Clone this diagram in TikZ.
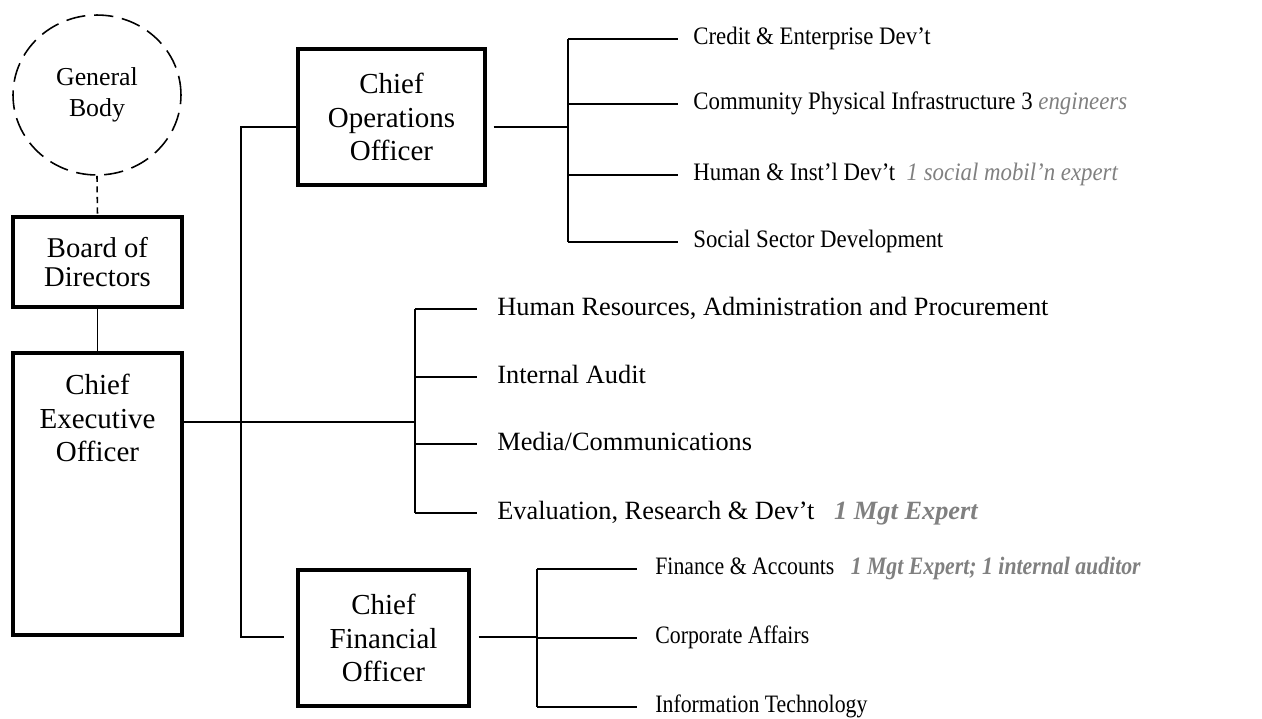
\documentclass[tikz,border=0pt]{standalone}
\usepackage{graphicx}
\usepackage{fontspec}
\setmainfont{Liberation Serif}
\usetikzlibrary{shapes.geometric}
\definecolor{notegray}{RGB}{128,128,128}
\newcommand\grnote[1]{\textcolor{notegray}{\textit{#1}}}
\newcommand\grbnote[1]{\textcolor{notegray}{\textbf{\textit{#1}}}}
\newcommand\tallA[1]{\scalebox{1}[1.1]{#1}}
\newcommand\tallB[1]{\scalebox{1}[1.15]{#1}}
\begin{document}
\begin{tikzpicture}[x=0.02cm,y=-0.02cm,
  box/.style={draw,line width=1.8pt,rectangle,inner sep=0pt,align=center,
    font=\fontsize{16.5}{19}\selectfont},
  boxtext/.style={align=center,inner sep=0pt,font=\fontsize{16.5}{19}\selectfont},
  item/.style={anchor=west,inner sep=0pt,font=\fontsize{13}{15}\selectfont,
    text height=9.9pt,text depth=3.3pt},
  itemm/.style={anchor=west,inner sep=0pt,font=\fontsize{15}{17}\selectfont,
    text height=10.5pt,text depth=3.5pt},
  itemf/.style={anchor=west,inner sep=0pt,font=\fontsize{12.4}{14}\selectfont,
    text height=9.9pt,text depth=3.3pt},
  conn/.style={line width=0.9pt}]
\useasboundingbox (0,0) rectangle (1262,718);

% top-left
\node[ellipse,draw,line width=0.9pt,dash pattern=on 11pt off 5pt,
  minimum width=3.36cm,minimum height=3.2cm,inner sep=0pt,align=center,
  font=\fontsize{14.7}{18}\selectfont] (gb) at (97,95) {General\\Body};
\node[box,minimum width=3.38cm,minimum height=1.8cm,
  font=\fontsize{16.3}{17}\selectfont] (board) at (97.5,262) {Board of\\Directors};
\node[box,minimum width=3.38cm,minimum height=5.64cm] (ceo) at (97.5,494) {};
\node[boxtext] (ceot) at (97.5,418) {Chief\\Executive\\Officer};

\node[box,minimum width=3.74cm,minimum height=2.72cm] (coo) at (391.5,117) {Chief\\Operations\\Officer};
\node[box,minimum width=3.42cm,minimum height=2.72cm] (cfo) at (383.5,638) {Chief\\Financial\\Officer};

\draw[conn,dash pattern=on 3.5pt off 2.5pt] (gb.south) -- (board.north);
\draw[conn] (board.south) -- (ceo.north);

% junction coordinates
\coordinate (sp1) at (241,127);
\coordinate (sp2) at (241,637);
\coordinate (midj) at (415,422);
\coordinate (cooj) at (568,127);
\coordinate (cfoj) at (537,637);

% items: COO
\node[item] (t1) at (693,39) {\tallA{Credit \& Enterprise Dev't}};
\node[item] (t2) at (693,104) {\tallA{Community Physical Infrastructure 3 \grnote{engineers}}};
\node[item] (t3) at (693,175) {\tallA{Human \& Inst'l Dev't~~\grnote{1 social mobil'n expert}}};
\node[item] (t4) at (693,242) {\tallA{Social Sector Development}};
% items: middle
\node[itemm] (m1) at (497,309) {Human Resources, Administration and Procurement};
\node[itemm] (m2) at (497,377) {Internal Audit};
\node[itemm] (m3) at (497,444) {Media/Communications};
\node[itemm] (m4) at (497,513) {Evaluation, Research \& Dev't~~~\grbnote{1 Mgt Expert}};
% items: CFO
\node[itemf] (f1) at (655,569) {\tallB{Finance \& Accounts~~~\grbnote{1 Mgt Expert; 1 internal auditor}}};
\node[itemf] (f2) at (655,638) {\tallB{Corporate Affairs}};
\node[itemf] (f3) at (655,707) {\tallB{Information Technology}};

% CEO links
\draw[conn] (ceo.east |- midj) -- (midj);
\draw[conn] (coo.west |- sp1) -- (sp1) -- (sp2) -- ([xshift=-0.24cm]cfo.west |- sp2);

% COO branch
\draw[conn] ([xshift=0.14cm]coo.east |- cooj) -- (cooj);
\draw[conn] (cooj |- t1.west) -- (cooj |- t4.west);
\foreach \n in {t1,t2,t3,t4}
  \draw[conn] (cooj |- \n.west) -- ([xshift=-0.3cm]\n.west);

% middle branch
\draw[conn] (midj |- m1.west) -- (midj |- m4.west);
\foreach \n in {m1,m2,m3,m4}
  \draw[conn] (midj |- \n.west) -- ([xshift=-0.4cm]\n.west);

% CFO branch
\draw[conn] ([xshift=0.16cm]cfo.east |- cfoj) -- (cfoj);
\draw[conn] (cfoj |- f1.west) -- (cfoj |- f3.west);
\foreach \n in {f1,f2,f3}
  \draw[conn] (cfoj |- \n.west) -- ([xshift=-0.36cm]\n.west);
\end{tikzpicture}
\end{document}
